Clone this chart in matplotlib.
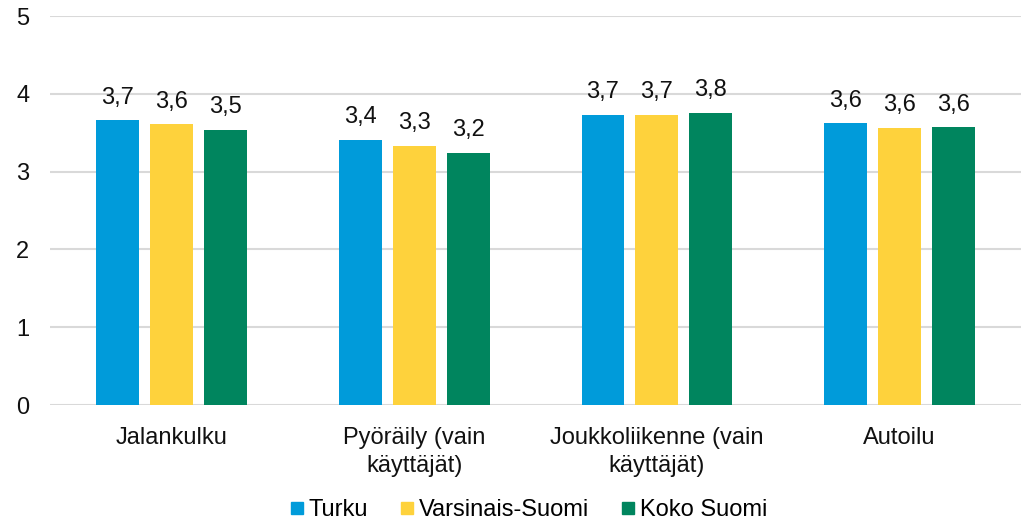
import matplotlib
matplotlib.use("Agg")
import matplotlib.pyplot as plt
import numpy as np
from matplotlib.lines import Line2D

categories = ["Jalankulku", "Pyöräily (vain\nkäyttäjät)", "Joukkoliikenne (vain\nkäyttäjät)", "Autoilu"]
series_names = ["Turku", "Varsinais-Suomi", "Koko Suomi"]
turku = [3.66, 3.41, 3.73, 3.62]
varsinais = [3.61, 3.33, 3.73, 3.56]
koko = [3.54, 3.24, 3.76, 3.57]
colors = ["#009BDA", "#FED23C", "#00855E"]

plt.rcParams['font.family'] = ['Liberation Sans', 'DejaVu Sans']
FS = 17

fig = plt.figure(figsize=(10.21, 5.23), dpi=100)
ax = fig.add_axes([0.049, 0.2256, 0.951, 0.7435])

x = np.arange(len(categories))
offsets = [-0.222, 0, 0.222]
width = 0.177
for vals, off, col in zip([turku, varsinais, koko], offsets, colors):
    bars = ax.bar(x + off, vals, width=width, color=col, zorder=3)
    for b, v in zip(bars, vals):
        ax.annotate(f"{v:.1f}".replace(".", ","), (b.get_x() + b.get_width() / 2, v),
                    xytext=(0, 12), textcoords="offset points",
                    ha="center", va="baseline", fontsize=FS, color="#111111")

ax.set_xlim(-0.5, len(categories) - 0.5)
ax.set_ylim(0, 5)
ax.set_yticks(range(6))
ax.yaxis.grid(True, color="#D9D9D9", linewidth=1.5, zorder=0)
ax.set_axisbelow(True)
for s in ax.spines.values():
    s.set_visible(False)
ax.tick_params(axis="both", length=0, labelsize=FS, colors="#111111")
ax.tick_params(axis="y", pad=15)
ax.tick_params(axis="x", pad=16)
ax.set_xticks(x)
ax.set_xticklabels(categories, linespacing=1.35)

handles = [Line2D([0], [0], marker="s", linestyle="none", markersize=8.6, color=c) for c in colors]
fig.legend(handles, series_names, loc="lower center", bbox_to_anchor=(0.518, 0.004), ncol=3,
           frameon=False, fontsize=FS, handlelength=0.6, handletextpad=0.2, columnspacing=1.35,
           borderpad=0, borderaxespad=0)

fig.savefig("out.png", dpi=100)
